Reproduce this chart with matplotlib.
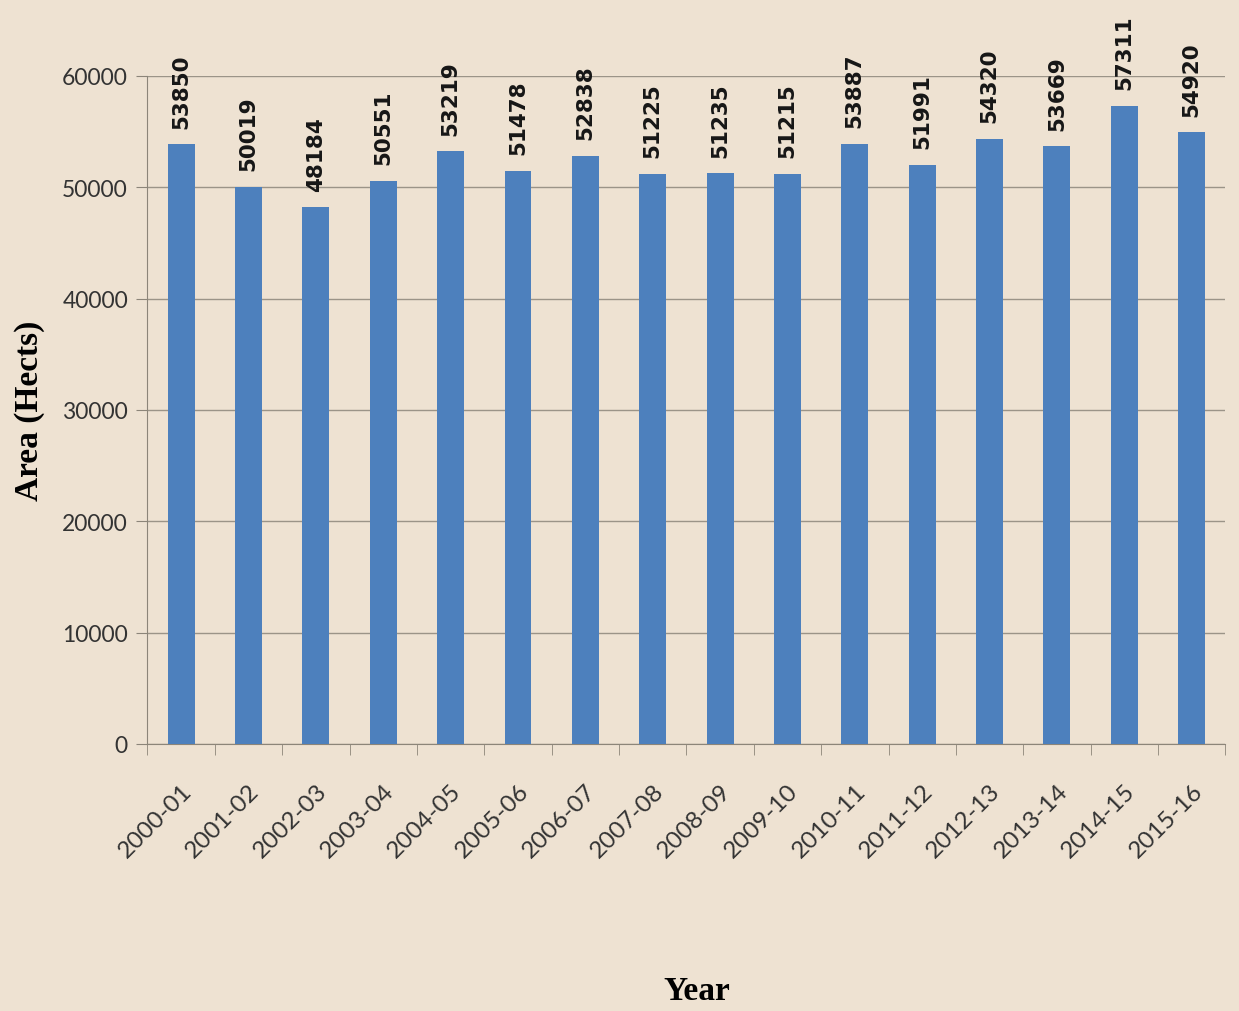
import numpy as np
import matplotlib.pyplot as plt
from matplotlib.transforms import ScaledTranslation

years = ["2000-01", "2001-02", "2002-03", "2003-04", "2004-05", "2005-06", "2006-07", "2007-08",
         "2008-09", "2009-10", "2010-11", "2011-12", "2012-13", "2013-14", "2014-15", "2015-16"]
area = [53850, 50019, 48184, 50551, 53219, 51478, 52838, 51225,
        51235, 51215, 53887, 51991, 54320, 53669, 57311, 54920]

bg = "#eee2d2"
bar_col = "#4d80bd"
line_col = "#8c8579"

fig = plt.figure(figsize=(12.39, 10.12), dpi=100, facecolor=bg)
ax = fig.add_axes([0.119, 0.264, 0.870, 0.660], facecolor=bg)

x = np.arange(len(years))
ax.bar(x, area, width=0.4, color=bar_col, zorder=3)

# value labels above each bar
for xi, v in zip(x, area):
    ax.text(xi, v + 1500, str(v), rotation=90, ha="center", va="bottom",
            fontsize=15.5, fontweight="bold", family="DejaVu Sans", color="#161616",
            clip_on=False)

ax.set_xlim(-0.5, len(years) - 0.5)
ax.set_ylim(0, 60000)
ax.set_yticks(range(0, 60001, 10000))
ax.yaxis.grid(True, color="#9b9488", linewidth=1, zorder=0)

ax.set_xticks(x)
ax.set_xticklabels(years, rotation=45, ha="right", va="top", rotation_mode="anchor",
                   fontsize=17.5, family="Lato", color="#333333")
shift = ScaledTranslation(0.06, 0.05, fig.dpi_scale_trans)
for lab in ax.get_xticklabels():
    lab.set_transform(lab.get_transform() + shift)
ax.set_xticks(np.arange(-0.5, len(years), 1), minor=True)
ax.tick_params(axis="x", which="major", length=0, pad=26)
ax.tick_params(axis="x", which="minor", length=8, color=line_col, direction="out")
ax.tick_params(axis="y", length=8, color=line_col, labelsize=16.5, pad=6, labelcolor="#333333")
for lab in ax.get_yticklabels():
    lab.set_family("Lato")

for s in ["top", "right"]:
    ax.spines[s].set_visible(False)
for s in ["left", "bottom"]:
    ax.spines[s].set_color(line_col)

ax.set_ylabel("Area (Hects)", family="Liberation Serif", fontweight="bold", fontsize=24, labelpad=12)
fig.text(0.5625, 0.005, "Year", family="Liberation Serif", fontweight="bold", fontsize=24,
         ha="center", va="bottom")

fig.savefig("out.png", dpi=100, facecolor=bg)
